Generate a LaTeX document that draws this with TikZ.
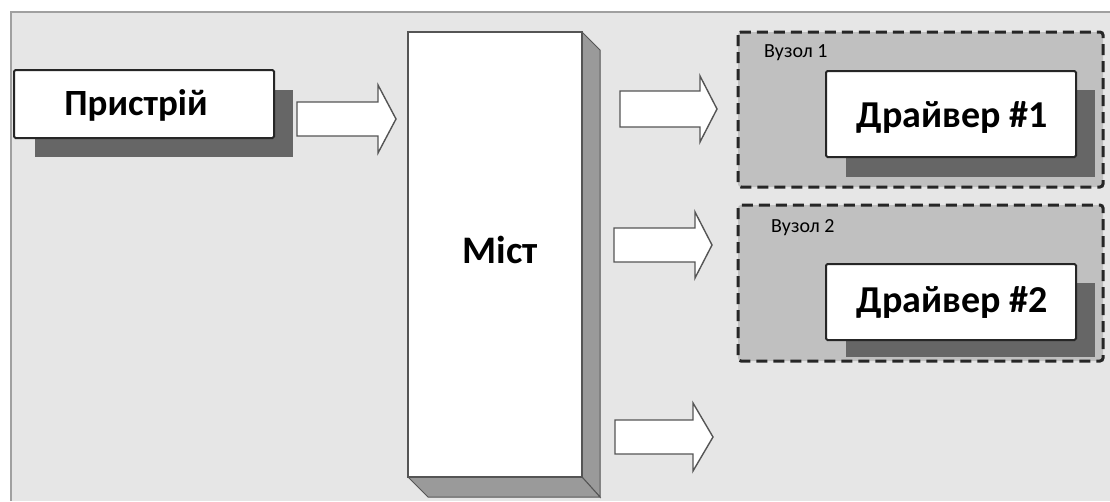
\documentclass[tikz,border=0pt]{standalone}
\usepackage{fontspec}
\setmainfont{Carlito}
\definecolor{bggray}{HTML}{E6E6E6}
\definecolor{framegray}{HTML}{A0A0A0}
\definecolor{groupgray}{HTML}{C0C0C0}
\definecolor{shadowgray}{HTML}{666666}
\definecolor{sidegray}{HTML}{9A9A9A}
\definecolor{edgegray}{HTML}{555555}
\begin{document}
\begin{tikzpicture}[x=1pt,y=-1pt,
  whitebox/.style={draw=black!85,line width=2pt,fill=white,rounded corners=1.5pt},
  shadowbox/.style={fill=shadowgray},
  groupbox/.style={draw=black!85,line width=3pt,fill=groupgray,dash pattern=on 11pt off 6pt,rounded corners=3pt},
  bigtext/.style={font=\bfseries\fontsize{37}{40}\selectfont,inner sep=0pt},
  drvtext/.style={font=\bfseries\fontsize{38}{41}\selectfont,inner sep=0pt},
  smalltext/.style={font=\fontsize{20}{22}\selectfont,inner sep=0pt,anchor=west},
  blockarrow/.style={draw=edgegray,line width=1.4pt,fill=white,line join=miter}]
\useasboundingbox (0,0) rectangle (1110,501);
\fill[white] (0,0) rectangle (1110,501);
\fill[bggray] (11,12) rectangle (1110,501);
\draw[framegray,line width=2pt] (11,501) -- (11,12) -- (1110,12);

% Pristrij
\fill[shadowbox] (35,90) rectangle (293,157);
\draw[whitebox] (14,70) rectangle (274,138);
\node[bigtext] (dev) at (136,105) {Пристрій};

% Mist (3D block)
\fill[sidegray,draw=edgegray,line width=1pt] (582,32) -- (600,50) -- (600,497) -- (582,477) -- cycle;
\fill[sidegray,draw=edgegray,line width=1pt] (408,477) -- (582,477) -- (600,497) -- (428,497) -- cycle;
\draw[fill=white,draw=edgegray,line width=1.4pt] (408,32) rectangle (582,477);
\node[bigtext,font=\bfseries\fontsize{39}{42}\selectfont] (bridge) at (500,250) {Міст};

% Group 1
\draw[groupbox] (738,32) rectangle (1103,187);
\node[smalltext] (g1) at (764,53) {Вузол 1};
\fill[shadowbox] (846,90) rectangle (1095,177);
\draw[whitebox] (826,71) rectangle (1076,157);
\node[drvtext] (d1) at (952,118) {Драйвер \#1};

% Group 2
\draw[groupbox] (738,205) rectangle (1103,361);
\node[smalltext] (g2) at (771,228) {Вузол 2};
\fill[shadowbox] (846,283) rectangle (1095,357);
\draw[whitebox] (826,264) rectangle (1076,340);
\node[drvtext] (d2) at (952,303) {Драйвер \#2};

% Block arrows
\newcommand\blkarrow[6]{% x1, xh, xt, y, shaft half, head half
  \draw[blockarrow] (#1,#4-#5) -- (#2,#4-#5) -- (#2,#4-#6) -- (#3,#4) -- (#2,#4+#6) -- (#2,#4+#5) -- (#1,#4+#5) -- cycle;}
\blkarrow{297}{378}{396}{119}{17}{34}
\blkarrow{620}{700}{717}{109}{18}{33}
\blkarrow{614}{695}{712}{245}{17}{33}
\blkarrow{615}{693}{713}{437}{17}{34}
\end{tikzpicture}
\end{document}
